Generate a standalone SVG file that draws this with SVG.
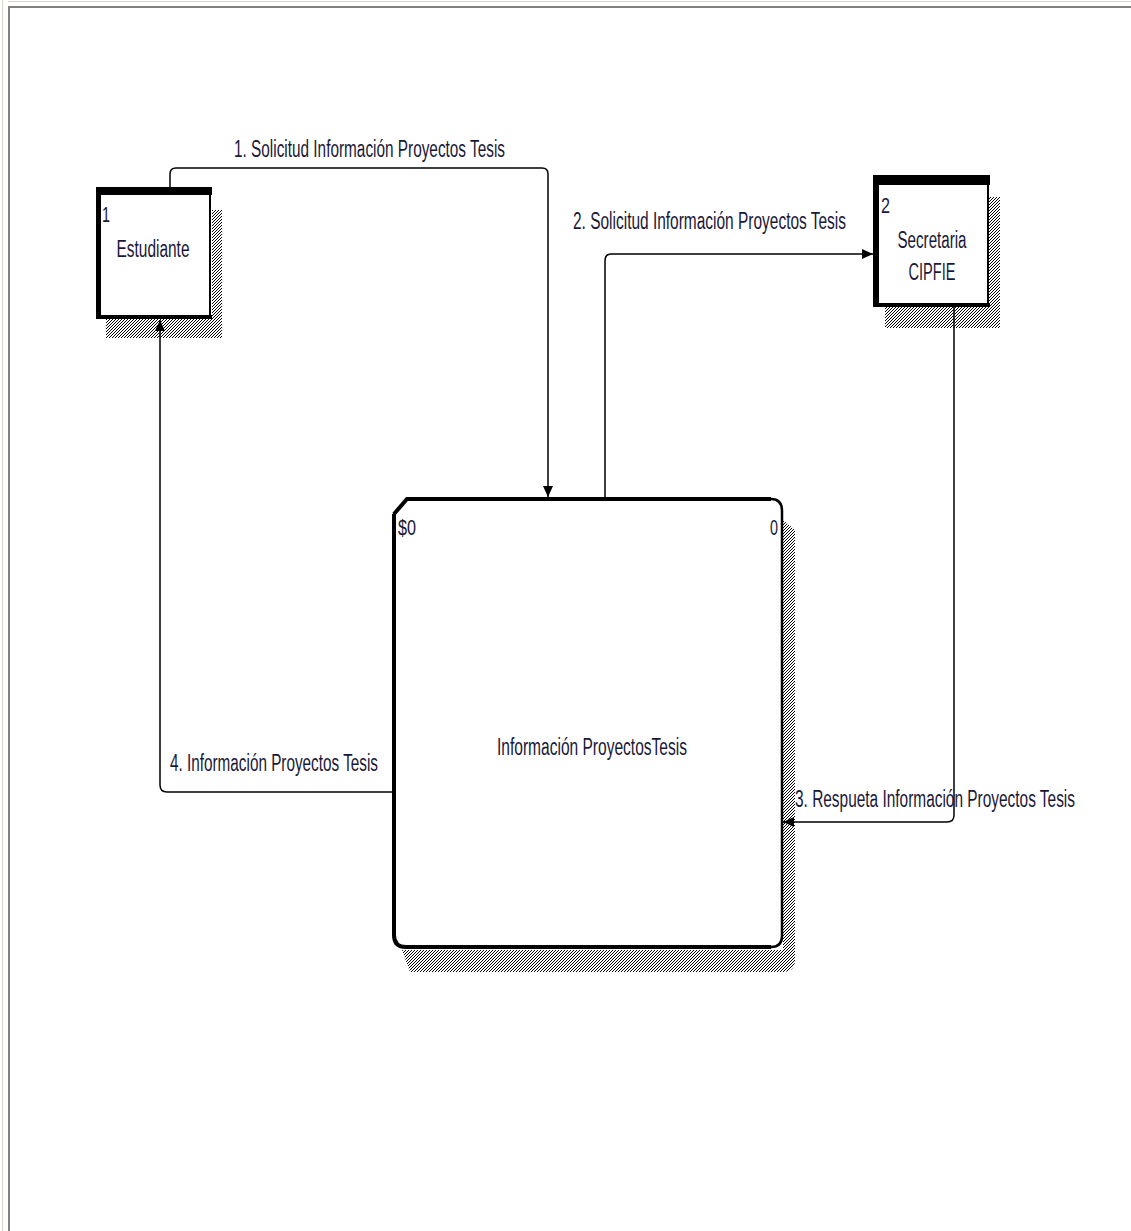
<svg xmlns="http://www.w3.org/2000/svg" width="1131" height="1231" viewBox="0 0 1131 1231">
<defs>
<pattern id="hatch" width="3" height="3" patternUnits="userSpaceOnUse">
<rect width="3" height="3" fill="#ffffff"/>
<path d="M0,3 L3,0" stroke="#000" stroke-width="1"/>
</pattern>
<marker id="arr" markerWidth="12" markerHeight="12" refX="11" refY="6" orient="auto" markerUnits="userSpaceOnUse">
<path d="M0,1 L11,6 L0,11 Z" fill="#000"/>
</marker>
<style>
.t{font-family:"Liberation Sans",Arial,sans-serif;font-size:23px;fill:#1a1838}
.n{font-family:"Liberation Sans",Arial,sans-serif;font-size:22px;fill:#1a1838}
.c{stroke:#000;stroke-width:1.5;fill:none}
.sh{fill:url(#hatch)}
</style>
</defs>
<rect width="1131" height="1231" fill="#fff"/>
<line x1="2.5" y1="0" x2="2.5" y2="1231" stroke="#d8d2c8" stroke-width="1"/>
<line x1="8" y1="1.5" x2="1131" y2="1.5" stroke="#d8d2c8" stroke-width="1"/>
<line x1="9" y1="7" x2="9" y2="1231" stroke="#808080" stroke-width="2"/>
<line x1="8" y1="7" x2="1131" y2="7" stroke="#808080" stroke-width="2"/>

<g id="estudiante">
<rect class="sh" x="212" y="210" width="10" height="128"/>
<rect class="sh" x="106" y="319" width="116" height="19"/>
<rect x="98" y="189" width="112" height="128" fill="#fff" stroke="#000" stroke-width="2"/>
<rect x="96" y="187" width="116" height="8" fill="#000"/>
<rect x="96" y="187" width="5" height="132" fill="#000"/>
<rect x="96" y="315" width="116" height="4" fill="#000"/>
<text class="n" x="102" y="222" textLength="8" lengthAdjust="spacingAndGlyphs">1</text>
<text class="t" x="153" y="257" text-anchor="middle" textLength="73" lengthAdjust="spacingAndGlyphs">Estudiante</text>
</g>

<g id="secretaria">
<rect class="sh" x="989" y="197" width="11" height="131"/>
<rect class="sh" x="885" y="307" width="115" height="21"/>
<rect x="875" y="177" width="113" height="129" fill="#fff" stroke="#000" stroke-width="2"/>
<rect x="873" y="175" width="117" height="10" fill="#000"/>
<rect x="873" y="175" width="6" height="132" fill="#000"/>
<rect x="873" y="303" width="117" height="4" fill="#000"/>
<text class="n" x="881" y="213" textLength="9" lengthAdjust="spacingAndGlyphs">2</text>
<text class="t" x="932" y="248" text-anchor="middle" textLength="69" lengthAdjust="spacingAndGlyphs">Secretaria</text>
<text class="t" x="932" y="280" text-anchor="middle" textLength="47" lengthAdjust="spacingAndGlyphs">CIPFIE</text>
</g>

<g id="proceso">
<path class="sh" d="M783,520 L795,530 L795,960 Q795,972 783,972 L410,972 L402,950 L783,950 Z"/>
<path d="M407,499 L771,499 Q782,499 782,511 L782,936 Q782,947 771,947 L406,947 Q394,947 394,935 L394,514 Z" fill="#fff" stroke="#000" stroke-width="2.5"/>
<path d="M394,514 L407,499 L771,499" fill="none" stroke="#000" stroke-width="4"/>
<path d="M394,514 L394,935 Q394,947 406,947 L771,947" fill="none" stroke="#000" stroke-width="4"/>
<text class="n" x="398" y="535" textLength="18" lengthAdjust="spacingAndGlyphs">$0</text>
<text class="n" x="770" y="535" textLength="8" lengthAdjust="spacingAndGlyphs">0</text>
<text class="t" x="592" y="755" text-anchor="middle" textLength="190" lengthAdjust="spacingAndGlyphs">Información ProyectosTesis</text>
</g>

<g id="connectors">
<path class="c" d="M170,187 L170,174 Q170,168 176,168 L542,168 Q548,168 548,174 L548,497" marker-end="url(#arr)"/>
<text class="t" x="234" y="157" textLength="271" lengthAdjust="spacingAndGlyphs">1. Solicitud Información Proyectos Tesis</text>
<path class="c" d="M605,497 L605,261 Q605,254 611,254 L873,254" marker-end="url(#arr)"/>
<text class="t" x="573" y="229" textLength="273" lengthAdjust="spacingAndGlyphs">2. Solicitud Información Proyectos Tesis</text>
<path class="c" d="M954,307 L954,815 Q954,822 947,822 L783,822" marker-end="url(#arr)"/>
<text class="t" x="795" y="807" textLength="280" lengthAdjust="spacingAndGlyphs">3. Respueta Información Proyectos Tesis</text>
<path class="c" d="M393,792 L167,792 Q160,792 160,785 L160,320" marker-end="url(#arr)"/>
<text class="t" x="170" y="771" textLength="208" lengthAdjust="spacingAndGlyphs">4. Información Proyectos Tesis</text>
</g>
</svg>
